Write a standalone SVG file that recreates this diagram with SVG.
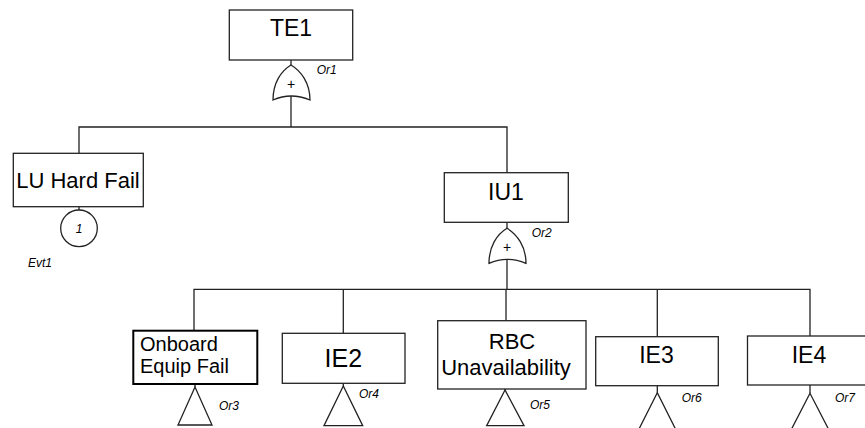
<svg xmlns="http://www.w3.org/2000/svg" width="865" height="428" viewBox="0 0 865 428">
<style>
.box{fill:#fff;stroke:#222;stroke-width:1.3}
.bold{stroke:#000;stroke-width:2}
.ln{fill:none;stroke:#222;stroke-width:1.3}
.t{font-family:"Liberation Sans",Arial,sans-serif;fill:#000}
.lbl{font-family:"Liberation Sans",Arial,sans-serif;font-style:italic;font-size:12px;fill:#000}
.gate{fill:#fff;stroke:#222;stroke-width:1.3}
</style>
<defs>
<path id="orgate" d="M0,0 C-10,6 -18,18 -18,35 Q0,27 19,35 C19,18 10,6 0,0 Z"/>
</defs>
<rect width="865" height="428" fill="#fff"/>
<g id="connectors" class="ln">
<line x1="291" y1="60" x2="291" y2="65"/>
<line x1="291" y1="96" x2="291" y2="127"/>
<polyline points="79,153.3 79,127 507,127 507,172.7"/>
<line x1="79" y1="206.7" x2="79" y2="210"/>
<line x1="507" y1="222.3" x2="507" y2="228.3"/>
<line x1="507" y1="259" x2="507" y2="289.3"/>
<polyline points="194,330.7 194,289.3 810,289.3 810,336"/>
<line x1="343.3" y1="289.3" x2="343.3" y2="333.3"/>
<line x1="506" y1="289.3" x2="506" y2="320.7"/>
<line x1="657.3" y1="289.3" x2="657.3" y2="336.7"/>
<line x1="195" y1="384" x2="195" y2="387"/>
<line x1="343.3" y1="383.3" x2="343.3" y2="386"/>
<line x1="505" y1="389" x2="505" y2="390"/>
<line x1="657.3" y1="385.7" x2="657.3" y2="392.7"/>
<line x1="810" y1="385" x2="810" y2="393.3"/>
</g>
<g id="TE1">
<rect class="box" x="229.3" y="10" width="123.4" height="50"/>
<text class="t" x="291" y="36" font-size="23" text-anchor="middle">TE1</text>
</g>
<g id="Or1">
<use href="#orgate" class="gate" x="291" y="65"/>
<text class="t" x="291" y="89" font-size="14" text-anchor="middle">+</text>
<text class="lbl" x="316.7" y="73.5">Or1</text>
</g>
<g id="LUHardFail">
<rect class="box" x="13.3" y="153.3" width="130" height="53.4"/>
<text class="t" x="78" y="188" font-size="22" text-anchor="middle">LU Hard Fail</text>
</g>
<g id="Evt1">
<circle class="box" cx="79" cy="228.3" r="18.3"/>
<text class="lbl" x="79" y="232.5" text-anchor="middle">1</text>
<text class="lbl" x="28" y="266.7">Evt1</text>
</g>
<g id="IU1">
<rect class="box" x="444.3" y="172.7" width="124" height="49.6"/>
<text class="t" x="506" y="200" font-size="23" text-anchor="middle">IU1</text>
</g>
<g id="Or2">
<use href="#orgate" class="gate" x="507" y="228.3"/>
<text class="t" x="507" y="252" font-size="14" text-anchor="middle">+</text>
<text class="lbl" x="531.7" y="236.7">Or2</text>
</g>
<g id="OnboardEquipFail">
<rect class="box bold" x="133.3" y="330.7" width="124" height="53.3"/>
<text class="t" x="140" y="350.7" font-size="20">Onboard</text>
<text class="t" x="140" y="372.7" font-size="20">Equip Fail</text>
</g>
<g id="Or3">
<polygon class="gate" points="195,387 178,425 212,425"/>
<text class="lbl" x="219" y="409.5">Or3</text>
</g>
<g id="IE2">
<rect class="box" x="282.3" y="333.3" width="122.7" height="50"/>
<text class="t" x="343.3" y="367.3" font-size="25" text-anchor="middle">IE2</text>
</g>
<g id="Or4">
<polygon class="gate" points="343.3,386 324,425.7 362.7,425.7"/>
<text class="lbl" x="359" y="398">Or4</text>
</g>
<g id="RBCUnavailability">
<rect class="box" x="437.7" y="320.7" width="148.3" height="68.3"/>
<text class="t" x="512" y="349" font-size="22" text-anchor="middle">RBC</text>
<text class="t" x="506" y="375" font-size="22" text-anchor="middle">Unavailability</text>
</g>
<g id="Or5">
<polygon class="gate" points="505,390 486.7,425.7 524,425.7"/>
<text class="lbl" x="530" y="409">Or5</text>
</g>
<g id="IE3">
<rect class="box" x="595.7" y="336.7" width="122.6" height="49"/>
<text class="t" x="656.5" y="363.3" font-size="23" text-anchor="middle">IE3</text>
</g>
<g id="Or6">
<polygon class="gate" points="657.3,392.7 637.5,432 677,432"/>
<text class="lbl" x="681.7" y="401.5">Or6</text>
</g>
<g id="IE4">
<rect class="box" x="747.5" y="336" width="123" height="49"/>
<text class="t" x="809" y="363.3" font-size="23" text-anchor="middle">IE4</text>
</g>
<g id="Or7">
<polygon class="gate" points="810,393.3 789.5,433 830.5,433"/>
<text class="lbl" x="835" y="401.5">Or7</text>
</g>
</svg>
